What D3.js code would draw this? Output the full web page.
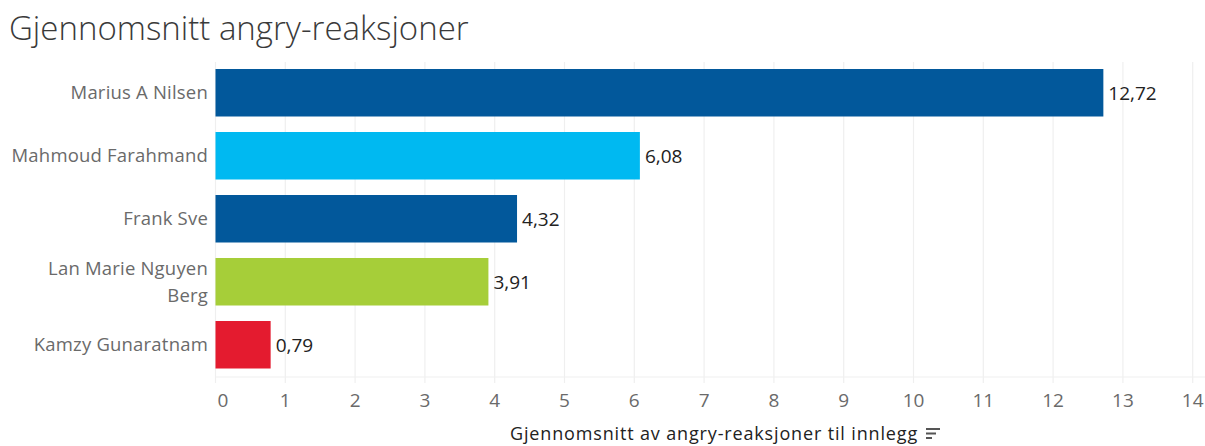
<!DOCTYPE html>
<html><head><meta charset="utf-8">
<script src="https://cdn.jsdelivr.net/npm/d3@7"></script>
<style>
body{margin:0;background:#fff;}
svg{display:block;font-family:"Open Sans",sans-serif;}
</style></head>
<body><svg id="c" width="1205" height="446"></svg>
<script>
const categories = ["Marius A Nilsen","Mahmoud Farahmand","Frank Sve","Lan Marie Nguyen Berg","Kamzy Gunaratnam"];
const labelLines = [["Marius A Nilsen"],["Mahmoud Farahmand"],["Frank Sve"],["Lan Marie Nguyen","Berg"],["Kamzy Gunaratnam"]];
const values = [12.72, 6.08, 4.32, 3.91, 0.79];
const colors = ["#02589b","#00b9f1","#02589b","#a6ce39","#e41b2f"];
const xTicks = [0,1,2,3,4,5,6,7,8,9,10,11,12,13,14];
const title = "Gjennomsnitt angry-reaksjoner";
const xTitle = "Gjennomsnitt av angry-reaksjoner til innlegg";

const svg = d3.select("#c");
const x = d3.scaleLinear().domain([0,14]).range([215.5,1192.7]);
const y = d3.scaleBand().domain(categories).range([61.25,376.25]).paddingInner(0.246).paddingOuter(0.123);

svg.append("text").attr("x",9).attr("y",40).attr("font-size",33).attr("font-weight",300).attr("fill","#3a3a3a")
  .text(title);

// gridlines
svg.append("g").selectAll("line").data(xTicks).join("line")
  .attr("x1",d=>x(d)).attr("x2",d=>x(d)).attr("y1",62).attr("y2",383)
  .attr("stroke","#efefef").attr("stroke-width",1.2);
svg.append("line").attr("x1",x(0)).attr("x2",1205).attr("y1",377).attr("y2",377)
  .attr("stroke","#efefef").attr("stroke-width",1.2);

// bars
svg.append("g").selectAll("rect").data(values).join("rect")
  .attr("x",x(0)).attr("y",(d,i)=>y(categories[i]))
  .attr("width",d=>x(d)-x(0)).attr("height",y.bandwidth())
  .attr("fill",(d,i)=>colors[i]);

// value labels
svg.append("g").selectAll("text").data(values).join("text")
  .attr("x",d=>x(d)+5).attr("y",(d,i)=>y(categories[i])+y.bandwidth()/2)
  .attr("dy","0.36em").attr("font-size",19).attr("fill","#222")
  .text(d=>d3.format(".2f")(d).replace(".",","));

// category labels
const lab = svg.append("g").selectAll("text").data(categories).join("text")
  .attr("text-anchor","end").attr("font-size",18.5).attr("letter-spacing",0.2).attr("fill","#6a6a6a")
  .attr("y",(d,i)=>y(d)+y.bandwidth()/2);
lab.each(function(d,i){
  const lines = labelLines[i];
  const lh = 27;
  lines.forEach((l,j)=>{
    d3.select(this).append("tspan").attr("x",208)
      .attr("dy", j===0 ? ((0.36*18.5) - (lines.length-1)*lh/2)+"px" : lh+"px")
      .text(l);
  });
});

// x axis tick labels
svg.append("g").selectAll("text").data(xTicks).join("text")
  .attr("x",d=>x(d)+(d===0?7.5:0)).attr("y",407).attr("text-anchor","middle")
  .attr("font-size",19).attr("fill","#6a6a6a").text(d=>d);

// axis title
svg.append("text").attr("x",714).attr("y",440).attr("text-anchor","middle")
  .attr("font-size",18).attr("letter-spacing",0.85).attr("fill","#222").text(xTitle);
// sort icon
const icon = svg.append("g").attr("fill","#555");
[[0,14],[4.5,10],[9,6]].forEach(([dy,w])=>{
  icon.append("rect").attr("x",926).attr("y",428+dy).attr("width",w).attr("height",2);
});
</script></body></html>
